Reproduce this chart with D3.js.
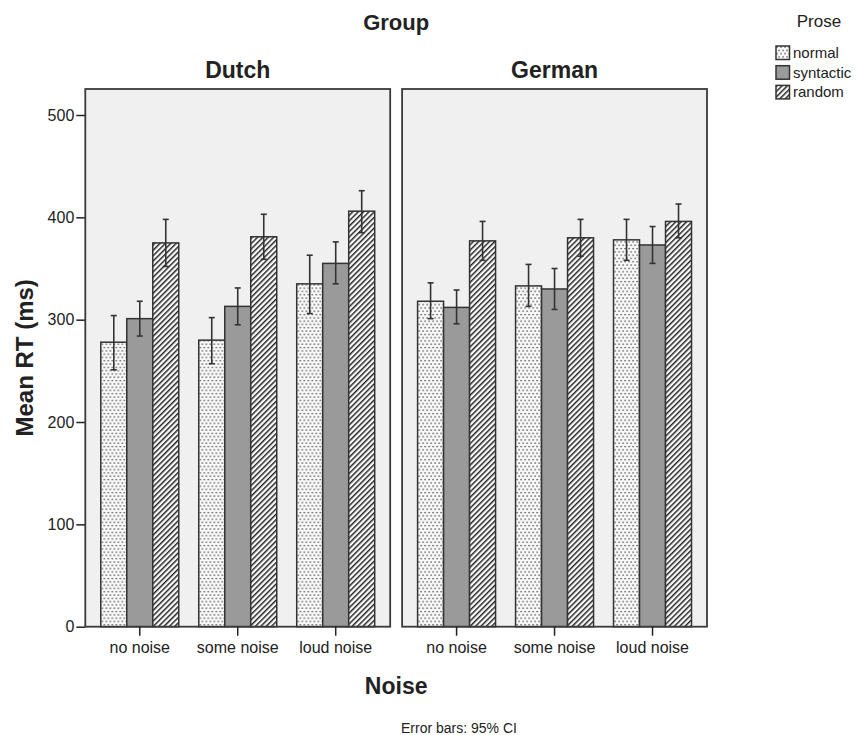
<!DOCTYPE html>
<html>
<head>
<meta charset="utf-8">
<script src="https://cdn.jsdelivr.net/npm/d3@7"></script>
<style>
  body { margin: 0; background: #fff; }
  text { font-family: "Liberation Sans", Arial, sans-serif; fill: #222; }
</style>
</head>
<body>
<div id="chart"></div>
<script>
// categories
const groups = ["Dutch", "German"];
const noiseLevels = ["no noise", "some noise", "loud noise"];
const proseTypes = ["normal", "syntactic", "random"];
const yTicks = [0, 100, 200, 300, 400, 500];

// rows: prose (normal, syntactic, random), columns: noise level
const dutchMean = [[278, 280, 335], [301, 313, 355], [375, 381, 406]];
const dutchLow  = [[251, 257, 306], [284, 295, 335], [352, 359, 385]];
const dutchHigh = [[304, 302, 363], [318, 331, 376], [398, 403, 426]];

const germanMean = [[318, 333, 378], [312, 330, 373], [377, 380, 396]];
const germanLow  = [[301, 313, 358], [296, 310, 355], [358, 362, 380]];
const germanHigh = [[336, 354, 398], [329, 350, 391], [396, 398, 413]];

const tables = {
  Dutch: {mean: dutchMean, low: dutchLow, high: dutchHigh},
  German: {mean: germanMean, low: germanLow, high: germanHigh}
};

const W = 860, H = 735;
const PANEL = {TOP: 89, BOTTOM: 626.7, LEFT: 85.3, WIDTH: 305, GAP: 11.7};
const FONT = "Liberation Sans, Arial, sans-serif";

const svg = d3.select("#chart").append("svg")
  .attr("width", W).attr("height", H);

// patterns
const defs = svg.append("defs");
const dots = defs.append("pattern")
  .attr("id", "dots").attr("patternUnits", "userSpaceOnUse")
  .attr("width", 4).attr("height", 6.6);
dots.append("rect").attr("width", 4).attr("height", 6.6).attr("fill", "#fafafa");
dots.append("rect").attr("x", 0.4).attr("y", 0.4).attr("width", 1.3).attr("height", 1.3).attr("fill", "#333");
dots.append("rect").attr("x", 2.4).attr("y", 3.7).attr("width", 1.3).attr("height", 1.3).attr("fill", "#333");

const hatch = defs.append("pattern")
  .attr("id", "hatch").attr("patternUnits", "userSpaceOnUse")
  .attr("width", 3.8).attr("height", 10)
  .attr("patternTransform", "rotate(45)");
hatch.append("rect").attr("width", 3.8).attr("height", 10).attr("fill", "#fafafa");
hatch.append("line").attr("x1", 0.7).attr("x2", 0.7).attr("y1", 0).attr("y2", 10)
  .attr("stroke", "#222").attr("stroke-width", 1.5);

const fills = {normal: "url(#dots)", syntactic: "#9a9a9a", random: "url(#hatch)"};

// scales
const facet = d3.scaleBand().domain(groups)
  .range([PANEL.LEFT, PANEL.LEFT + 2 * PANEL.WIDTH + PANEL.GAP])
  .paddingInner(PANEL.GAP / (PANEL.WIDTH + PANEL.GAP / 2));
const x0 = d3.scaleBand().domain(noiseLevels)
  .range([0, facet.bandwidth()])
  .paddingInner(0.204).paddingOuter(0.158);
const x1 = d3.scaleBand().domain(proseTypes).range([0, x0.bandwidth()]);
const y = d3.scaleLinear().domain([0, 525.4]).range([PANEL.BOTTOM, PANEL.TOP]);

// y axis
const yAxis = svg.append("g")
  .attr("transform", `translate(${PANEL.LEFT},0)`)
  .call(d3.axisLeft(y).tickValues(yTicks).tickSize(9).tickPadding(2));
yAxis.select(".domain").remove();
yAxis.selectAll("line").attr("stroke", "#222").attr("stroke-width", 1.5);
yAxis.selectAll("text").attr("font-size", 16).attr("fill", "#222")
  .style("font-family", FONT);

groups.forEach(g => {
  const t = tables[g];
  const panel = svg.append("g").attr("transform", `translate(${facet(g)},0)`);

  panel.append("rect")
    .attr("x", 0).attr("y", PANEL.TOP)
    .attr("width", facet.bandwidth()).attr("height", PANEL.BOTTOM - PANEL.TOP)
    .attr("fill", "#f0f0f0");

  const rows = [];
  proseTypes.forEach((p, i) => noiseLevels.forEach((n, j) => {
    rows.push({prose: p, noise: n, mean: t.mean[i][j], low: t.low[i][j], high: t.high[i][j]});
  }));

  panel.selectAll("rect.bar").data(rows).enter().append("rect")
    .attr("class", "bar")
    .attr("x", d => x0(d.noise) + x1(d.prose))
    .attr("y", d => y(d.mean))
    .attr("width", x1.bandwidth())
    .attr("height", d => y(0) - y(d.mean))
    .attr("fill", d => fills[d.prose])
    .attr("stroke", "#333").attr("stroke-width", 1.5);

  const err = panel.selectAll("g.err").data(rows).enter().append("g")
    .attr("class", "err")
    .attr("transform", d => `translate(${x0(d.noise) + x1(d.prose) + x1.bandwidth() / 2},0)`)
    .attr("stroke", "#333").attr("stroke-width", 1.6);
  err.append("line").attr("y1", d => y(d.low)).attr("y2", d => y(d.high));
  err.append("line").attr("x1", -3).attr("x2", 3).attr("y1", d => y(d.high)).attr("y2", d => y(d.high));
  err.append("line").attr("x1", -3).attr("x2", 3).attr("y1", d => y(d.low)).attr("y2", d => y(d.low));

  // panel frame
  panel.append("rect")
    .attr("x", 0).attr("y", PANEL.TOP)
    .attr("width", facet.bandwidth()).attr("height", PANEL.BOTTOM - PANEL.TOP)
    .attr("fill", "none").attr("stroke", "#3a3a3a").attr("stroke-width", 1.8);

  // x axis
  const xAxis = panel.append("g")
    .attr("transform", `translate(0,${PANEL.BOTTOM})`)
    .call(d3.axisBottom(x0).tickSize(9).tickPadding(6));
  xAxis.select(".domain").remove();
  xAxis.selectAll("line").attr("stroke", "#222").attr("stroke-width", 1.5);
  xAxis.selectAll("text").attr("font-size", 16).attr("fill", "#222")
    .style("font-family", FONT);

  panel.append("text")
    .attr("x", facet.bandwidth() / 2).attr("y", 78)
    .attr("text-anchor", "middle")
    .attr("font-size", 23).attr("font-weight", "bold")
    .text(g);
});

const plotMid = (PANEL.LEFT + PANEL.LEFT + 2 * PANEL.WIDTH + PANEL.GAP) / 2;

svg.append("text")
  .attr("x", plotMid).attr("y", 30)
  .attr("text-anchor", "middle")
  .attr("font-size", 22).attr("font-weight", "bold")
  .text("Group");

svg.append("text")
  .attr("x", plotMid).attr("y", 694)
  .attr("text-anchor", "middle")
  .attr("font-size", 23).attr("font-weight", "bold")
  .text("Noise");

svg.append("text")
  .attr("transform", `translate(33,${(PANEL.TOP + PANEL.BOTTOM) / 2}) rotate(-90)`)
  .attr("text-anchor", "middle")
  .attr("font-size", 24).attr("font-weight", "bold")
  .text("Mean RT (ms)");

svg.append("text")
  .attr("x", 459).attr("y", 733)
  .attr("text-anchor", "middle")
  .attr("font-size", 14)
  .text("Error bars: 95% CI");

// legend
const legend = svg.append("g").attr("transform", "translate(776,0)");
legend.append("text")
  .attr("x", 43).attr("y", 27)
  .attr("text-anchor", "middle")
  .attr("font-size", 17)
  .text("Prose");
const items = legend.selectAll("g.item").data(proseTypes).enter().append("g")
  .attr("class", "item")
  .attr("transform", (d, i) => `translate(0,${46 + i * 19.7})`);
items.append("rect")
  .attr("width", 13.5).attr("height", 13.5)
  .attr("fill", d => fills[d])
  .attr("stroke", "#333").attr("stroke-width", 1.5);
items.append("text")
  .attr("x", 17).attr("y", 12)
  .attr("font-size", 15)
  .text(d => d);
</script>
</body>
</html>
